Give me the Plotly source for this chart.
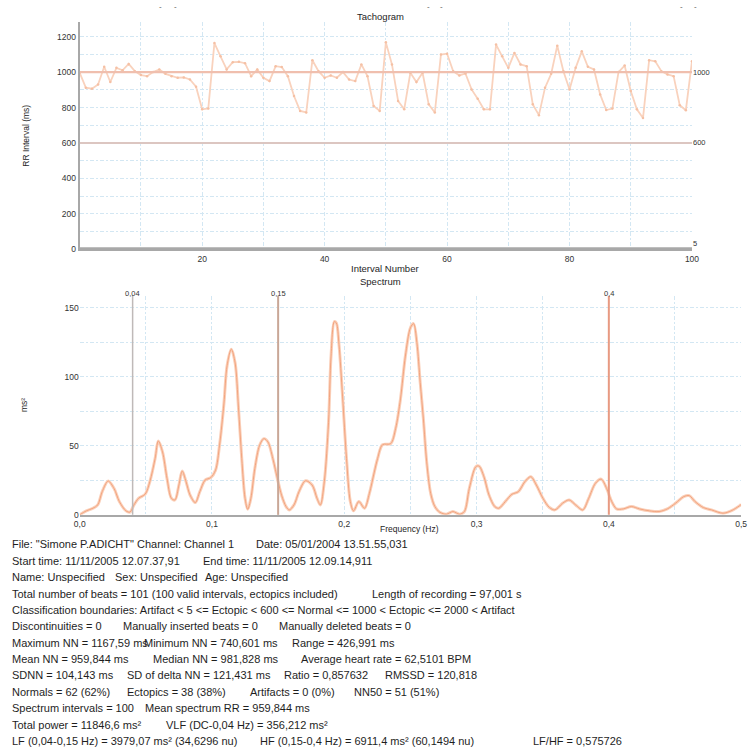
import plotly.graph_objects as go

W, H = 755, 753

# ---- Tachogram: RR interval (ms) per interval number ----
interval_number = list(range(0, 101))
rr_ms = [996, 912, 906, 930, 1030, 944, 1024, 1010, 1046, 1005,
         983, 977, 1000, 1015, 990, 977, 968, 970, 958, 917,
         790, 795, 1164, 1089, 1015, 1056, 1058, 1050, 977, 1015,
         968, 949, 1033, 1028, 977, 865, 781, 772, 1067, 1005,
         968, 981, 968, 1000, 958, 949, 1043, 977, 809, 781,
         1167.6, 1043, 837, 790, 996, 944, 996, 818, 772, 1099,
         1104, 1005, 981, 992, 902, 850, 790, 790, 1155, 1089,
         1024, 1108, 1043, 1033, 818, 757, 912, 990, 1149, 1005,
         902, 1024, 1117, 1030, 1015, 874, 786, 794, 1000, 1037,
         893, 790, 740.6, 1067, 1061, 1005, 987, 977, 813, 785, 1061]

# classification boundaries drawn on the tachogram
rr_bounds = [5, 600, 1000]
rr_bound_labels = ["5", "600", "1000"]
rr_bound_colors = ["#a8a8a8", "#dcc6c1", "#f0bfae"]

# ---- Spectrum: power (ms^2) vs frequency (Hz) ----
spec_freq = [0, 0.005, 0.01, 0.0136, 0.017, 0.0215, 0.026, 0.03, 0.035, 0.038,
             0.041, 0.0445, 0.0495, 0.053, 0.057, 0.0594, 0.0626, 0.066, 0.0693, 0.072,
             0.075, 0.0775, 0.0804, 0.0834, 0.0874, 0.0908, 0.0948, 0.099, 0.1027, 0.1057,
             0.109, 0.1114, 0.1146, 0.1175, 0.12, 0.1225, 0.125, 0.127, 0.1294, 0.1324,
             0.136, 0.1393, 0.1423, 0.146, 0.1497, 0.1527, 0.156, 0.1584, 0.162, 0.1658,
             0.1707, 0.1757, 0.1794, 0.1819, 0.1849, 0.1881, 0.19, 0.1925, 0.194, 0.196,
             0.1987, 0.2017, 0.2046, 0.207, 0.211, 0.2153, 0.219, 0.2227, 0.2252, 0.2289,
             0.2351, 0.2388, 0.2425, 0.2462, 0.25, 0.2524, 0.2549, 0.2574, 0.2598, 0.2623,
             0.2653, 0.2685, 0.2722, 0.2772, 0.2821, 0.2871, 0.2908, 0.2945, 0.2994, 0.3019,
             0.3056, 0.3094, 0.3138, 0.3168, 0.3217, 0.3267, 0.3316, 0.3365, 0.341, 0.3452,
             0.3502, 0.3551, 0.3593, 0.365, 0.37, 0.3749, 0.3803, 0.3848, 0.3898, 0.3942,
             0.3984, 0.4022, 0.4059, 0.4108, 0.417, 0.4232, 0.4306, 0.438, 0.4442, 0.4504,
             0.4566, 0.4608, 0.4652, 0.4714, 0.4776, 0.4863, 0.4924, 0.4987, 0.5]
spec_power = [0, 2.9, 4.8, 7.2, 16.8, 24.5, 19, 9.6, 2.9, 2,
              7.2, 12, 15, 24, 40.8, 53.5, 45.6, 26.4, 12, 10.8,
              21.6, 31.7, 24, 14.4, 8.9, 16.8, 25.2, 26.9, 32.4, 50.4,
              80.3, 108, 120, 110, 78, 40.8, 12, 4, 12, 33.6,
              50.4, 55.2, 52.8, 40.8, 25.2, 13.9, 6, 3.6, 7.2, 16.8,
              24.7, 21.6, 12, 7.2, 24, 67, 115, 140, 139, 123.5,
              86, 40.8, 9.6, 2.9, 9.6, 4.8, 15.6, 31, 40.8, 50.8,
              51.6, 62.4, 84, 115, 135.5, 138.5, 124.7, 96, 69.5, 38.4,
              15.6, 6, 1.9, 0.5, 2.4, 0.5, 2.4, 19, 34.8, 35.3,
              27.6, 14.4, 6, 4.8, 9.6, 14.9, 16.8, 24, 27.6, 21.6,
              12, 5.3, 3.6, 8.4, 10.8, 7.2, 3.6, 12, 22.8, 25.9,
              19, 9.6, 4.3, 4.3, 6, 4.3, 2.9, 2.4, 4.3, 8.4,
              13.2, 13.9, 9.6, 5.3, 3.6, 1.2, 2.9, 6.5, 7.5]

# VLF / LF / HF band edges
band_edges = [0.04, 0.15, 0.4]
band_labels = ["0,04", "0,15", "0,4"]
band_colors = ["#bfb9b8", "#c9a797", "#e89a82"]
band_widths = [1.5, 2, 2]

# ---- report text: (x pixel, text) per row ----
report_rows = [
    [(4, 'File: "Simone P.ADICHT" Channel: Channel 1'), (252, "Date: 05/01/2004 13.51.55,031")],
    [(4, "Start time: 11/11/2005 12.07.37,91"), (198, "End time: 11/11/2005 12.09.14,911")],
    [(4, "Name: Unspecified"), (109, "Sex: Unspecified"), (200, "Age: Unspecified")],
    [(4, "Total number of beats = 101 (100 valid intervals, ectopics included)"),
     (370, "Length of recording = 97,001 s")],
    [(4, "Classification boundaries: Artifact < 5 <= Ectopic < 600 <= Normal <= 1000 < Ectopic <= 2000 < Artifact")],
    [(4, "Discontinuities = 0"), (117, "Manually inserted beats = 0"), (276, "Manually deleted beats = 0")],
    [(4, "Maximum NN = 1167,59 ms"), (138, "Minimum NN = 740,601 ms"), (289, "Range = 426,991 ms")],
    [(4, "Mean NN = 959,844 ms"), (148, "Median NN = 981,828 ms"), (298, "Average heart rate = 62,5101 BPM")],
    [(4, "SDNN = 104,143 ms"), (121, "SD of delta NN = 121,431 ms"), (281, "Ratio = 0,857632"),
     (384, "RMSSD = 120,818")],
    [(4, "Normals = 62 (62%)"), (121, "Ectopics = 38 (38%)"), (246, "Artifacts = 0 (0%)"),
     (352, "NN50 = 51 (51%)")],
    [(4, "Spectrum intervals = 100"), (139, "Mean spectrum RR = 959,844 ms")],
    [(4, "Total power = 11846,6 ms²"), (161, "VLF (DC-0,04 Hz) = 356,212 ms²")],
    [(4, "LF (0,04-0,15 Hz) = 3979,07 ms² (34,6296 nu)"), (256, "HF (0,15-0,4 Hz) = 6911,4 ms² (60,1494 nu)"),
     (534, "LF/HF = 0,575726")],
]
report_y0, report_dy = 548, 16.5

FONT = "Liberation Sans"
TXT = "#1e1e1e"
GRID = "#d3e7f3"
GRIDDASH = "4px,2px,2px,2px"


def px(x):
    return x / W


def py(y):
    return 1 - y / H


fig = go.Figure()

fig.add_trace(go.Scatter(
    x=interval_number, y=rr_ms, mode="lines+markers",
    line=dict(color="#f9d2bd", width=1.8),
    marker=dict(size=2.5, color="#f5c0a4"),
    xaxis="x", yaxis="y", hoverinfo="skip"))

fig.add_trace(go.Scatter(
    x=spec_freq, y=spec_power, mode="lines",
    line=dict(color="#fad0ba", width=3, shape="spline", smoothing=0.9),
    xaxis="x2", yaxis="y2", hoverinfo="skip"))
fig.add_trace(go.Scatter(
    x=spec_freq, y=spec_power, mode="lines",
    line=dict(color="#f2a47f", width=1, shape="spline", smoothing=0.9),
    xaxis="x2", yaxis="y2", hoverinfo="skip"))

tick_font = dict(family=FONT, size=8.5, color="#333333")

x1_ticks = list(range(0, 101, 10))
y1_ticks = list(range(0, 1201, 100))
x2_ticks = [round(i * 0.05, 2) for i in range(11)]
y2_ticks = list(range(0, 151, 25))

fig.update_layout(
    width=W, height=H,
    margin=dict(l=0, r=0, t=0, b=0),
    paper_bgcolor="white", plot_bgcolor="white",
    showlegend=False,
    xaxis=dict(domain=[px(75), px(698)], range=[0, 100], anchor="y",
               tickmode="array", tickvals=x1_ticks,
               ticktext=[str(v) if v % 20 == 0 and v > 0 else "" for v in x1_ticks],
               showgrid=True, gridcolor=GRID, griddash=GRIDDASH, gridwidth=1,
               showline=True, linecolor="#a8a8a8", linewidth=2,
               zeroline=False, ticks="", tickfont=tick_font),
    yaxis=dict(domain=[py(251), py(21.7)], range=[0, 1285], anchor="x",
               tickmode="array", tickvals=y1_ticks,
               ticktext=[str(v) if v % 200 == 0 else "" for v in y1_ticks],
               showgrid=True, gridcolor=GRID, griddash=GRIDDASH, gridwidth=1,
               showline=True, linecolor="#a8a8a8", linewidth=2,
               zeroline=False, ticks="", tickfont=tick_font),
    xaxis2=dict(domain=[px(75), px(748)], range=[0, 0.5], anchor="y2",
                tickmode="array", tickvals=x2_ticks,
                ticktext=[("%.1f" % v).replace(".", ",") if i % 2 == 0 else ""
                          for i, v in enumerate(x2_ticks)],
                showgrid=True, gridcolor=GRID, griddash=GRIDDASH, gridwidth=1,
                showline=True, linecolor="#a8a8a8", linewidth=2,
                zeroline=False, ticks="", tickfont=tick_font),
    yaxis2=dict(domain=[py(518.3), py(298)], range=[0, 158.5], anchor="x2",
                tickmode="array", tickvals=y2_ticks,
                ticktext=[str(v) if v % 50 == 0 else "" for v in y2_ticks],
                showgrid=True, gridcolor=GRID, griddash=GRIDDASH, gridwidth=1,
                showline=False, zeroline=False, ticks="", tickfont=tick_font),
)

shapes = []
annotations = []

# tachogram boundary lines
for b, lab, c in zip(rr_bounds, rr_bound_labels, rr_bound_colors):
    shapes.append(dict(type="line", xref="x", yref="y", x0=0, x1=100, y0=b, y1=b,
                       line=dict(color=c, width=2.2), layer="above"))
    annotations.append(dict(xref="x domain", yref="y", x=1, y=b, yshift=(5 if b < 100 else 0),
                            text=lab, showarrow=False, xanchor="left", yanchor="middle",
                            xshift=-1, font=dict(family=FONT, size=7.5, color="#333333")))

# spectral band edges
for e, lab, c, w in zip(band_edges, band_labels, band_colors, band_widths):
    shapes.append(dict(type="line", xref="x2", yref="y2 domain", x0=e, x1=e, y0=0, y1=1,
                       line=dict(color=c, width=w), layer="above"))
    annotations.append(dict(xref="x2", yref="paper", x=e, y=py(295), text=lab,
                            showarrow=False, xanchor="center", yanchor="middle",
                            font=dict(family=FONT, size=7.5, color="#333333")))

title_font = dict(family=FONT, size=9.5, color=TXT)


def label(x, y, text, angle=0, anchor="center", font=title_font):
    annotations.append(dict(xref="paper", yref="paper", x=px(x), y=py(y), text=text,
                            showarrow=False, xanchor=anchor, yanchor="middle",
                            textangle=angle, font=font))


label(381, 17, "Tachogram")
label(386, 270, "Interval Number")
label(20, 137, "RR Interval (ms)", angle=-90, font=dict(family=FONT, size=8.5, color=TXT))
label(381, 283, "Spectrum")
label(411, 533, "Frequency (Hz)", font=dict(family=FONT, size=8.5, color=TXT))
label(19, 408, "ms²", angle=-90, font=dict(family=FONT, size=8.5, color=TXT))

# small marks along the top edge
for mx in [157, 172, 430, 443, 687, 702]:
    label(mx, 7, "-", font=dict(family=FONT, size=8, color="#555555"))

report_font = dict(family=FONT, size=11, color=TXT)
for i, row in enumerate(report_rows):
    for x, text in row:
        label(x, report_y0 + i * report_dy, text, anchor="left", font=report_font)

fig.update_layout(shapes=shapes, annotations=annotations)
fig.write_html("out.html")
